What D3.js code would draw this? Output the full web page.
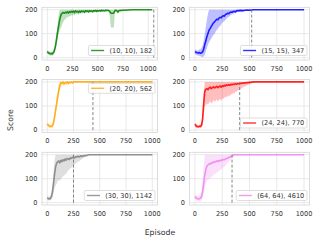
<!DOCTYPE html>
<html>
<head>
<meta charset="utf-8">
<script src="https://cdn.jsdelivr.net/npm/d3@7"></script>
<style>
  html, body { margin: 0; padding: 0; background: #fff; }
  svg { display: block; font-family: "DejaVu Sans", sans-serif; }
</style>
</head>
<body>
<svg id="chart" width="320" height="240"></svg>
<script>
"use strict";

// episode grid shared by the 0..1000 runs
const EP = [0,10,20,30,40,50,60,70,80,90,
  100,110,120,130,140,150,160,170,180,190,
  200,210,220,230,240,250,260,270,280,290,
  300,310,320,330,340,350,360,370,380,390,
  400,420,440,460,480,500,520,540,560,580,
  600,650,700,750,800,850,900,950,1000];

// the (10, 10) run is longer
const EP_G = [0,10,20,30,40,50,60,70,80,90,
  100,110,120,130,140,150,160,170,180,190,
  200,210,220,230,240,250,260,270,280,290,
  300,310,320,330,340,350,360,370,380,390,
  400,410,420,430,440,450,460,470,480,490,
  500,510,520,530,540,550,560,570,580,590,
  600,610,620,630,640,650,660,670,680,690,
  700,710,750,800,850,900,950,1000,1040];

const greenMean = [25,20,18,16,17,15,20,28,45,70,
  100,125,150,170,182,186,188,185,189,187,
  191,186,192,189,193,190,194,188,195,191,
  193,189,194,190,195,192,194,190,196,193,
  195,191,196,193,195,192,196,194,197,193,
  196,195,197,194,198,196,197,195,198,197,
  198,196,192,186,185,185,186,196,198,195,
  190,196,198,199,200,200,200,200,200];
const greenLo = [18,12,10,8,9,8,12,18,30,50,
  75,95,110,120,130,140,150,158,160,165,
  170,168,175,172,178,176,180,175,183,180,
  182,180,185,182,186,184,186,183,188,186,
  188,185,190,187,189,186,190,188,192,188,
  191,190,192,189,194,192,193,191,195,194,
  195,193,170,128,125,125,128,190,194,188,
  182,192,196,198,200,200,200,200,200];
const greenHi = [32,28,26,24,25,24,30,42,65,95,
  130,165,195,200,200,200,200,200,200,200,
  200,200,200,200,200,200,200,200,200,200,
  200,200,200,200,200,200,200,200,200,200,
  200,200,200,200,200,200,200,200,200,200,
  200,200,200,200,200,200,200,200,200,200,
  200,200,200,200,200,200,200,200,200,200,
  200,200,200,200,200,200,200,200,200];

const blueMean = [25,22,20,19,21,18,20,24,35,55,
  70,88,102,115,122,130,138,145,150,155,
  160,158,165,168,166,172,175,173,180,182,
  185,183,188,190,189,192,193,191,195,196,
  196,197,196,198,199,198,199,200,200,200,
  200,200,200,200,200,200,200,200,200];
const blueLo = [15,12,10,8,8,6,4,3,5,12,
  25,40,55,65,72,80,88,95,100,108,
  115,120,128,132,138,145,150,152,158,162,
  168,170,175,178,180,183,185,184,188,190,
  190,192,193,195,196,196,198,199,200,200,
  200,200,200,200,200,200,200,200,200];
const blueHi = [35,32,30,30,35,35,40,50,70,100,
  130,160,185,200,200,200,200,200,200,200,
  200,200,200,200,200,200,200,200,200,200,
  200,200,200,200,200,200,200,200,200,200,
  200,200,200,200,200,200,200,200,200,200,
  200,200,200,200,200,200,200,200,200];

const orangeMean = [25,20,17,15,16,18,30,55,85,110,
  140,165,185,198,195,200,192,198,196,200,
  194,199,197,200,196,200,200,200,200,200,
  200,200,200,200,200,200,200,200,200,200,
  200,200,200,200,200,200,200,200,200,200,
  200,200,200,200,200,200,200,200,200];
const orangeLo = [18,12,10,8,8,10,18,40,65,90,
  120,145,170,185,180,188,180,188,186,190,
  185,192,190,196,190,198,200,200,200,200,
  200,200,200,200,200,200,200,200,200,200,
  200,200,200,200,200,200,200,200,200,200,
  200,200,200,200,200,200,200,200,200];
const orangeHi = [32,28,25,22,25,28,45,75,105,135,
  165,190,200,200,200,200,200,200,200,200,
  200,200,200,200,200,200,200,200,200,200,
  200,200,200,200,200,200,200,200,200,200,
  200,200,200,200,200,200,200,200,200,200,
  200,200,200,200,200,200,200,200,200];

const redMean = [25,18,15,14,16,15,20,45,110,160,
  170,172,168,175,178,172,176,180,175,178,
  182,176,180,183,178,184,181,186,183,188,
  185,189,186,190,188,191,189,192,190,193,
  192,194,195,196,197,198,199,200,200,200,
  200,200,200,200,200,200,200,200,200];
const redLo = [18,10,8,8,10,8,10,20,60,100,
  105,110,105,115,120,110,115,125,118,122,
  128,118,125,130,120,132,128,138,132,140,
  138,145,140,150,148,155,150,160,158,165,
  165,172,178,182,186,190,194,198,200,200,
  200,200,200,200,200,200,200,200,200];
const redHi = [32,25,22,20,22,24,32,75,160,200,
  200,200,200,200,200,200,200,200,200,200,
  200,200,200,200,200,200,200,200,200,200,
  200,200,200,200,200,200,200,200,200,200,
  200,200,200,200,200,200,200,200,200,200,
  200,200,200,200,200,200,200,200,200];

const grayMean = [20,17,15,18,25,45,80,120,150,165,
  170,174,166,177,171,179,174,182,177,184,
  183,180,187,184,189,187,186,191,190,193,
  192,191,195,194,193,196,197,196,198,199,
  200,200,200,200,200,200,200,200,200,200,
  200,200,200,200,200,200,200,200,200];
const grayLo = [12,10,8,10,12,20,40,60,70,80,
  90,95,90,100,105,110,112,118,120,128,
  135,138,142,145,150,155,158,162,166,170,
  172,175,178,182,185,188,190,192,195,198,
  200,200,200,200,200,200,200,200,200,200,
  200,200,200,200,200,200,200,200,200];
const grayHi = [28,25,25,30,45,80,130,180,200,200,
  200,200,200,200,200,200,200,200,200,200,
  200,200,200,200,200,200,200,200,200,200,
  200,200,200,200,200,200,200,200,200,200,
  200,200,200,200,200,200,200,200,200,200,
  200,200,200,200,200,200,200,200,200];

const violetMean = [25,20,17,15,16,18,25,45,80,115,
  140,152,158,162,160,166,165,170,168,172,
  174,171,176,174,178,177,180,179,182,184,
  186,188,190,192,195,198,200,200,200,200,
  200,200,200,200,200,200,200,200,200,200,
  200,200,200,200,200,200,200,200,200];
const violetLo = [15,10,8,6,5,5,8,20,40,60,
  80,90,95,100,100,108,110,115,118,122,
  126,128,132,135,140,142,148,150,155,160,
  165,170,175,180,185,190,198,200,200,200,
  200,200,200,200,200,200,200,200,200,200,
  200,200,200,200,200,200,200,200,200];
const violetHi = [35,30,28,28,30,35,50,90,150,200,
  200,200,200,200,200,200,200,200,200,200,
  200,200,200,200,200,200,200,200,200,200,
  200,200,200,200,200,200,200,200,200,200,
  200,200,200,200,200,200,200,200,200,200,
  200,200,200,200,200,200,200,200,200];

const labels = ["(10, 10), 182", "(15, 15), 347", "(20, 20), 562",
                "(24, 24), 770", "(30, 30), 1142", "(64, 64), 4610"];
const solvedAt = [1055, 520, 435, 410, 250, 340];
const xTicks = [0, 250, 500, 750, 1000];
const yTicks = [0, 100, 200];

const panels = [
  { ep: EP_G, mean: greenMean, lo: greenLo, hi: greenHi, color: "#008000", legend: "bottom" },
  { ep: EP, mean: blueMean, lo: blueLo, hi: blueHi, color: "#0000ff", legend: "bottom" },
  { ep: EP, mean: orangeMean, lo: orangeLo, hi: orangeHi, color: "#ffa500", legend: "top" },
  { ep: EP, mean: redMean, lo: redLo, hi: redHi, color: "#ff0000", legend: "bottom" },
  { ep: EP, mean: grayMean, lo: grayLo, hi: grayHi, color: "#808080", legend: "bottom" },
  { ep: EP, mean: violetMean, lo: violetLo, hi: violetHi, color: "#ee82ee", legend: "bottom" }
];

const cols = [[42, 157.5], [189.5, 309.5]];
const rows = [[7.3, 60], [79.5, 132.5], [152.3, 205]];
const tickFont = 6.6;

const svg = d3.select("#chart");

panels.forEach((p, i) => {
  const [x0, x1] = cols[i % 2];
  const [y0, y1] = rows[Math.floor(i / 2)];
  const last = p.ep[p.ep.length - 1];
  const pad = last * 0.05;

  const x = d3.scaleLinear().domain([-pad, last + pad]).range([x0, x1]);
  const y = d3.scaleLinear().domain([-10, 210]).range([y1, y0]);

  const g = svg.append("g");
  const clipId = "clip" + i;
  g.append("clipPath").attr("id", clipId)
    .append("rect").attr("x", x0).attr("y", y0)
    .attr("width", x1 - x0).attr("height", y1 - y0);

  // grid
  g.selectAll(".vg").data(xTicks.filter(t => t <= last + pad)).join("line")
    .attr("x1", d => x(d)).attr("x2", d => x(d))
    .attr("y1", y0).attr("y2", y1)
    .attr("stroke", "#e3e3e3").attr("stroke-width", 0.8);
  g.selectAll(".hg").data(yTicks).join("line")
    .attr("x1", x0).attr("x2", x1)
    .attr("y1", d => y(d)).attr("y2", d => y(d))
    .attr("stroke", "#e3e3e3").attr("stroke-width", 0.8);

  const pts = p.ep.map((e, k) => ({ e: e, m: p.mean[k], lo: p.lo[k], hi: p.hi[k] }));
  const plot = g.append("g").attr("clip-path", `url(#${clipId})`);

  plot.append("path").datum(pts)
    .attr("d", d3.area().x(d => x(d.e)).y0(d => y(d.lo)).y1(d => y(d.hi)))
    .attr("fill", p.color).attr("fill-opacity", 0.25);

  plot.append("path").datum(pts)
    .attr("d", d3.line().x(d => x(d.e)).y(d => y(d.m)))
    .attr("fill", "none").attr("stroke", p.color)
    .attr("stroke-opacity", 0.85).attr("stroke-width", 1.6)
    .attr("stroke-linejoin", "round");

  plot.append("line")
    .attr("x1", x(solvedAt[i])).attr("x2", x(solvedAt[i]))
    .attr("y1", y(0)).attr("y2", y(200))
    .attr("stroke", "#777").attr("stroke-width", 0.9)
    .attr("stroke-dasharray", "3,2");

  // spines
  g.append("rect").attr("x", x0).attr("y", y0)
    .attr("width", x1 - x0).attr("height", y1 - y0)
    .attr("fill", "none").attr("stroke", "#d5d5d5").attr("stroke-width", 0.8);

  // tick labels
  g.selectAll(".xt").data(xTicks).join("text")
    .attr("x", d => x(d)).attr("y", y1 + 10.6)
    .attr("text-anchor", "middle").attr("font-size", tickFont)
    .attr("fill", "#333").text(d => d);
  g.selectAll(".yt").data(yTicks).join("text")
    .attr("x", x0 - 4.5).attr("y", d => y(d) + 2.4)
    .attr("text-anchor", "end").attr("font-size", tickFont)
    .attr("fill", "#333").text(d => d);

  // legend
  const lg = g.append("g");
  const txt = lg.append("text").attr("font-size", tickFont).attr("fill", "#333").text(labels[i]);
  const tw = txt.node().getComputedTextLength();
  const boxW = 2.7 + 13 + 5.3 + tw + 2.7;
  const boxH = 10;
  const bx = x1 - 2.5 - boxW;
  const by = p.legend === "top" ? y0 + 3.8 : y1 - 4.5 - boxH;
  lg.insert("rect", "text")
    .attr("x", bx).attr("y", by).attr("width", boxW).attr("height", boxH)
    .attr("rx", 1.5).attr("fill", "#fff").attr("fill-opacity", 0.85)
    .attr("stroke", "#d0d0d0").attr("stroke-width", 0.7);
  lg.append("line")
    .attr("x1", bx + 2.7).attr("x2", bx + 2.7 + 13)
    .attr("y1", by + boxH / 2).attr("y2", by + boxH / 2)
    .attr("stroke", p.color).attr("stroke-opacity", 0.8).attr("stroke-width", 1.4);
  txt.attr("x", bx + 2.7 + 13 + 5.3).attr("y", by + boxH / 2 + 2.4);
});

svg.append("text")
  .attr("x", 160).attr("y", 234.5)
  .attr("text-anchor", "middle").attr("font-size", 7.8).attr("fill", "#333")
  .text("Episode");

svg.append("text")
  .attr("transform", "translate(12.5,120) rotate(-90)")
  .attr("text-anchor", "middle").attr("font-size", 7.8).attr("fill", "#333")
  .text("Score");
</script>
</body>
</html>
